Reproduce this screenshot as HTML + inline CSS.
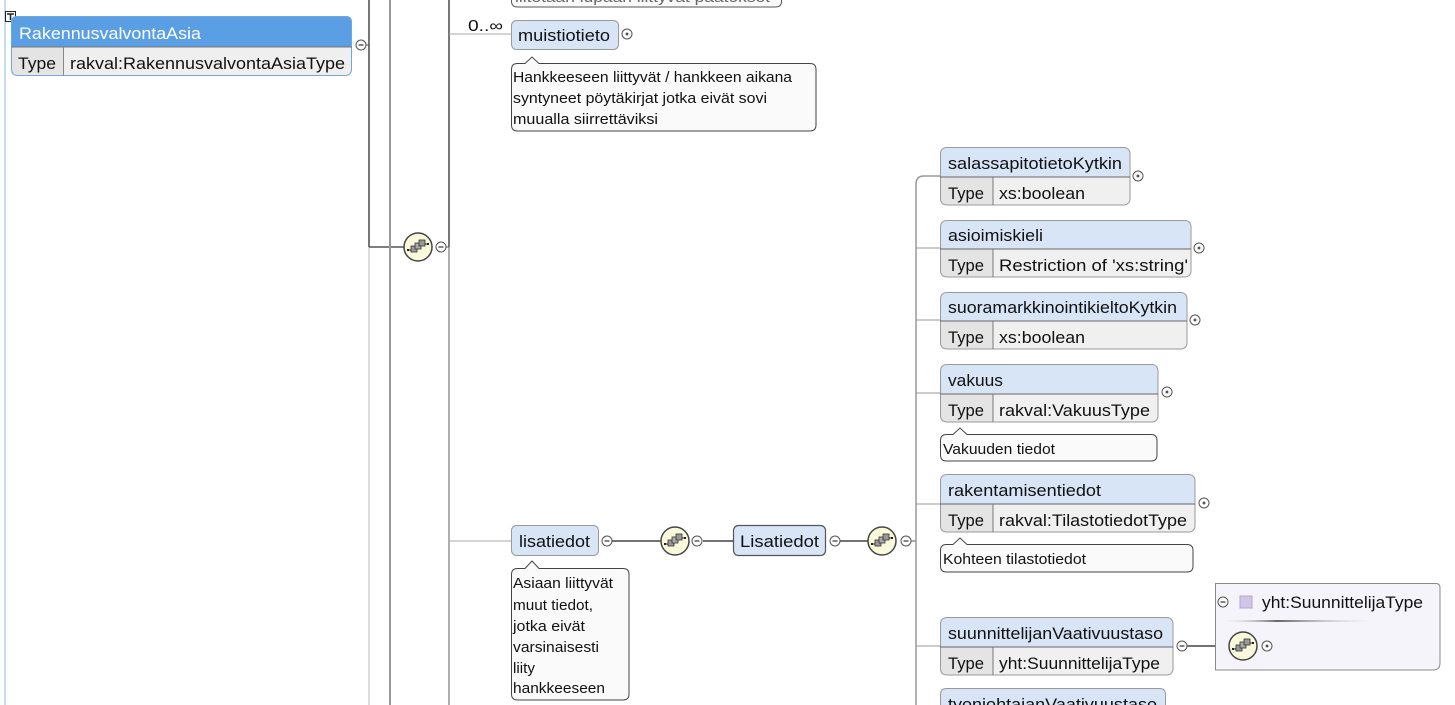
<!DOCTYPE html>
<html><head><meta charset="utf-8"><style>
html,body{margin:0;padding:0;background:#fff;width:1455px;height:705px;overflow:hidden;}
svg{display:block;}
text{font-family:"Liberation Sans",Arial,sans-serif;fill:#111;}
.h{font-size:17px;}
.c{font-size:15px;}
</style></head><body>
<svg width="1455" height="705" viewBox="0 0 1455 705" xmlns="http://www.w3.org/2000/svg" overflow="hidden">
<defs>
<linearGradient id="sep" x1="0" x2="1" y1="0" y2="0">
<stop offset="0" stop-color="#fff" stop-opacity="0"/>
<stop offset="0.35" stop-color="#666"/>
<stop offset="1" stop-color="#fff" stop-opacity="0"/>
</linearGradient>
<clipPath id="frame"><rect x="0" y="0" width="1455" height="705"/></clipPath>
<g id="seq">
<circle r="14" fill="#fbf9dc" stroke="#444" stroke-width="1.5"/>
<rect x="-7" y="-1" width="6" height="6" fill="#999" stroke="#333" stroke-width="0.8"/>
<rect x="-3" y="-4" width="6" height="6" fill="#aaa" stroke="#333" stroke-width="0.8"/>
<rect x="1" y="-7" width="6" height="6" fill="#999" stroke="#333" stroke-width="0.8"/>
<rect x="-11" y="2" width="2" height="2" fill="#222"/>
<line x1="-10" y1="3" x2="-7" y2="3" stroke="#222" stroke-width="1"/>
<rect x="9" y="-4" width="2" height="2" fill="#222"/>
<line x1="7" y1="-3" x2="10" y2="-3" stroke="#222" stroke-width="1"/>
</g>
<g id="minus">
<circle r="5" fill="#fff" stroke="#555" stroke-width="1"/>
<line x1="-2.5" y1="0" x2="2.5" y2="0" stroke="#333" stroke-width="1.2"/>
</g>
<g id="plus">
<circle r="5" fill="#fff" stroke="#555" stroke-width="1"/>
<line x1="-1.5" y1="0" x2="1.5" y2="0" stroke="#333" stroke-width="1.2"/>
<line x1="0" y1="-1.5" x2="0" y2="1.5" stroke="#333" stroke-width="1.2"/>
</g>
</defs>
<g clip-path="url(#frame)">

<!-- left panel line -->
<rect x="4" y="0" width="2" height="705" fill="#c6dcf3"/>
<!-- small icon -->
<rect x="5.5" y="11.5" width="10" height="10" fill="#fff" stroke="#222" stroke-width="1"/>
<line x1="7" y1="14" x2="14" y2="14" stroke="#222" stroke-width="1.5"/>
<line x1="10.5" y1="14" x2="10.5" y2="20" stroke="#222" stroke-width="1.5"/>

<!-- vertical connectors -->
<line x1="369" y1="0" x2="369" y2="247" stroke="#555" stroke-width="1.6"/>
<line x1="369" y1="247" x2="369" y2="705" stroke="#bbb" stroke-width="1"/>
<line x1="369" y1="247" x2="404" y2="247" stroke="#555" stroke-width="1.6"/>
<line x1="366" y1="45" x2="369" y2="45" stroke="#555" stroke-width="1"/>
<line x1="390" y1="0" x2="390" y2="705" stroke="#999" stroke-width="2"/>
<line x1="449" y1="0" x2="449" y2="247" stroke="#555" stroke-width="1.6"/>
<line x1="449" y1="247" x2="449" y2="705" stroke="#999" stroke-width="1.6"/>
<line x1="446" y1="247" x2="449" y2="247" stroke="#555" stroke-width="1"/>
<line x1="449" y1="34" x2="511" y2="34" stroke="#aaa" stroke-width="1"/>
<line x1="449" y1="541" x2="511" y2="541" stroke="#aaa" stroke-width="1"/>
<line x1="612" y1="541" x2="661" y2="541" stroke="#444" stroke-width="1.6"/>
<line x1="703" y1="541" x2="733" y2="541" stroke="#444" stroke-width="1.6"/>
<line x1="840" y1="541" x2="868" y2="541" stroke="#444" stroke-width="1.6"/>
<line x1="911" y1="541" x2="916" y2="541" stroke="#555" stroke-width="1"/>
<path d="M940,176 H924 Q916,176 916,184 V705" fill="none" stroke="#999" stroke-width="1.5"/>
<line x1="916" y1="248" x2="940" y2="248" stroke="#999" stroke-width="1"/>
<line x1="916" y1="320" x2="940" y2="320" stroke="#999" stroke-width="1"/>
<line x1="916" y1="393" x2="940" y2="393" stroke="#999" stroke-width="1"/>
<line x1="916" y1="504" x2="940" y2="504" stroke="#999" stroke-width="1"/>
<line x1="916" y1="646" x2="940" y2="646" stroke="#999" stroke-width="1"/>
<line x1="1187" y1="646" x2="1229" y2="646" stroke="#444" stroke-width="1.6"/>

<!-- RakennusvalvontaAsia -->
<path d="M17,16 H346 Q352,16 352,22 V47 H11 V22 Q11,16 17,16 Z" fill="#5a9fe4"/>
<path d="M11,47 H352 V70 Q352,76 346,76 H17 Q11,76 11,70 Z" fill="#efefef"/>
<rect x="11.5" y="47.5" width="52" height="27" fill="#e4e4e4"/>
<rect x="11.5" y="16.5" width="340" height="59" rx="6" fill="none" stroke="#6ea8e2" stroke-width="1"/>
<line x1="11" y1="47" x2="352" y2="47" stroke="#777" stroke-width="1"/>
<line x1="63.5" y1="47" x2="63.5" y2="75" stroke="#888" stroke-width="1"/>
<text class="h" x="19" y="39" textLength="182" lengthAdjust="spacingAndGlyphs" style="fill:#fff">RakennusvalvontaAsia</text>
<text class="h" x="18" y="69" textLength="38" lengthAdjust="spacingAndGlyphs">Type</text>
<text class="h" x="70" y="69" textLength="275" lengthAdjust="spacingAndGlyphs">rakval:RakennusvalvontaAsiaType</text>
<use href="#minus" x="361" y="45"/>

<!-- sequence 1 -->
<use href="#seq" x="418" y="247"/>
<use href="#minus" x="441" y="247"/>

<!-- clipped top comment -->
<path d="M511.5,0 V1 Q511.5,7 517.5,7 H775.5 Q781.5,7 781.5,1 V0" fill="#fafafa" stroke="#555" stroke-width="1"/>
<text class="c" x="515" y="2" textLength="255" lengthAdjust="spacingAndGlyphs" style="fill:#666">liitetään lupaan liittyvät päätökset</text>

<!-- muistiotieto -->
<text x="468" y="31" style="font-size:16px" textLength="35" lengthAdjust="spacingAndGlyphs">0..∞</text>
<rect x="511.5" y="20.5" width="107" height="29" rx="5" fill="#d8e5f7" stroke="#9a9a9a" stroke-width="1"/>
<text class="h" x="518" y="41" textLength="92" lengthAdjust="spacingAndGlyphs">muistiotieto</text>
<use href="#plus" x="627" y="34"/>
<path d="M517.5,63.5 H525 L532,57 L539,63.5 H810 Q816,63.5 816,69.5 V125 Q816,131 810,131 H517.5 Q511.5,131 511.5,125 V69.5 Q511.5,63.5 517.5,63.5 Z" fill="#fafafa" stroke="#444" stroke-width="1"/>
<text class="c" x="513" y="82" textLength="279" lengthAdjust="spacingAndGlyphs">Hankkeeseen liittyvät / hankkeen aikana</text>
<text class="c" x="513" y="103" textLength="254" lengthAdjust="spacingAndGlyphs">syntyneet pöytäkirjat jotka eivät sovi</text>
<text class="c" x="513" y="124" textLength="145" lengthAdjust="spacingAndGlyphs">muualla siirrettäviksi</text>

<!-- lisatiedot -->
<rect x="511.5" y="525.5" width="87" height="30" rx="5" fill="#d8e5f7" stroke="#9a9a9a" stroke-width="1"/>
<text class="h" x="519" y="547" textLength="71" lengthAdjust="spacingAndGlyphs">lisatiedot</text>
<use href="#minus" x="607" y="541"/>
<path d="M517.5,568.5 H525 L532,561 L539,568.5 H623 Q629,568.5 629,574.5 V694 Q629,700 623,700 H517.5 Q511.5,700 511.5,694 V574.5 Q511.5,568.5 517.5,568.5 Z" fill="#fafafa" stroke="#444" stroke-width="1"/>
<text class="c" x="513" y="588" textLength="100" lengthAdjust="spacingAndGlyphs">Asiaan liittyvät</text>
<text class="c" x="513" y="610" textLength="80" lengthAdjust="spacingAndGlyphs">muut tiedot,</text>
<text class="c" x="513" y="631" textLength="72" lengthAdjust="spacingAndGlyphs">jotka eivät</text>
<text class="c" x="513" y="652" textLength="86" lengthAdjust="spacingAndGlyphs">varsinaisesti</text>
<text class="c" x="513" y="673" textLength="22" lengthAdjust="spacingAndGlyphs">liity</text>
<text class="c" x="513" y="693" textLength="92" lengthAdjust="spacingAndGlyphs">hankkeeseen</text>

<use href="#seq" x="675" y="541"/>
<use href="#minus" x="697" y="541"/>
<rect x="733.5" y="525.5" width="92" height="30" rx="5" fill="#d8e5f7" stroke="#555" stroke-width="1.2"/>
<text class="h" x="740" y="547" textLength="79" lengthAdjust="spacingAndGlyphs">Lisatiedot</text>
<use href="#minus" x="835" y="541"/>
<use href="#seq" x="882" y="541"/>
<use href="#minus" x="906" y="541"/>

<!-- salassapitotietoKytkin -->
<g>
<path d="M946,147.5 H1124 Q1130,147.5 1130,153.5 V177 H940.5 V153.5 Q940.5,147.5 946,147.5 Z" fill="#d8e5f7"/>
<path d="M940.5,177 H1130 V199 Q1130,205 1124,205 H946 Q940.5,205 940.5,199 Z" fill="#f0f0f0"/>
<rect x="941" y="177.5" width="52" height="27" fill="#e4e4e4"/>
<rect x="940.5" y="147.5" width="189.5" height="57.5" rx="6" fill="none" stroke="#9a9a9a"/>
<line x1="940" y1="177" x2="1130" y2="177" stroke="#666"/>
<line x1="993" y1="177" x2="993" y2="205" stroke="#777"/>
<text class="h" x="948" y="169" textLength="174" lengthAdjust="spacingAndGlyphs">salassapitotietoKytkin</text>
<text class="h" x="948" y="199" textLength="36" lengthAdjust="spacingAndGlyphs">Type</text>
<text class="h" x="999" y="199" textLength="86" lengthAdjust="spacingAndGlyphs">xs:boolean</text>
<use href="#plus" x="1138" y="176"/>
</g>
<!-- asioimiskieli -->
<g>
<path d="M946,220.5 H1185 Q1191,220.5 1191,226.5 V249 H940.5 V226.5 Q940.5,220.5 946,220.5 Z" fill="#d8e5f7"/>
<path d="M940.5,249 H1191 V271 Q1191,277 1185,277 H946 Q940.5,277 940.5,271 Z" fill="#f0f0f0"/>
<rect x="941" y="249.5" width="52" height="27" fill="#e4e4e4"/>
<rect x="940.5" y="220.5" width="250.5" height="56.5" rx="6" fill="none" stroke="#9a9a9a"/>
<line x1="940" y1="249" x2="1191" y2="249" stroke="#666"/>
<line x1="993" y1="249" x2="993" y2="277" stroke="#777"/>
<text class="h" x="948" y="241" textLength="95" lengthAdjust="spacingAndGlyphs">asioimiskieli</text>
<text class="h" x="948" y="271" textLength="36" lengthAdjust="spacingAndGlyphs">Type</text>
<text class="h" x="999" y="271" textLength="189" lengthAdjust="spacingAndGlyphs">Restriction of 'xs:string'</text>
<use href="#plus" x="1199" y="248"/>
</g>
<!-- suoramarkkinointikieltoKytkin -->
<g>
<path d="M946,292.5 H1181 Q1187,292.5 1187,298.5 V321 H940.5 V298.5 Q940.5,292.5 946,292.5 Z" fill="#d8e5f7"/>
<path d="M940.5,321 H1187 V343 Q1187,349 1181,349 H946 Q940.5,349 940.5,343 Z" fill="#f0f0f0"/>
<rect x="941" y="321.5" width="52" height="27" fill="#e4e4e4"/>
<rect x="940.5" y="292.5" width="246.5" height="56.5" rx="6" fill="none" stroke="#9a9a9a"/>
<line x1="940" y1="321" x2="1187" y2="321" stroke="#666"/>
<line x1="993" y1="321" x2="993" y2="349" stroke="#777"/>
<text class="h" x="948" y="313" textLength="229" lengthAdjust="spacingAndGlyphs">suoramarkkinointikieltoKytkin</text>
<text class="h" x="948" y="343" textLength="36" lengthAdjust="spacingAndGlyphs">Type</text>
<text class="h" x="999" y="343" textLength="86" lengthAdjust="spacingAndGlyphs">xs:boolean</text>
<use href="#plus" x="1195" y="320"/>
</g>
<!-- vakuus -->
<g>
<path d="M946,364.5 H1152 Q1158,364.5 1158,370.5 V394 H940.5 V370.5 Q940.5,364.5 946,364.5 Z" fill="#d8e5f7"/>
<path d="M940.5,394 H1158 V416 Q1158,422 1152,422 H946 Q940.5,422 940.5,416 Z" fill="#f0f0f0"/>
<rect x="941" y="394.5" width="52" height="27" fill="#e4e4e4"/>
<rect x="940.5" y="364.5" width="217.5" height="57.5" rx="6" fill="none" stroke="#9a9a9a"/>
<line x1="940" y1="394" x2="1158" y2="394" stroke="#666"/>
<line x1="993" y1="394" x2="993" y2="422" stroke="#777"/>
<text class="h" x="948" y="386" textLength="55" lengthAdjust="spacingAndGlyphs">vakuus</text>
<text class="h" x="948" y="416" textLength="36" lengthAdjust="spacingAndGlyphs">Type</text>
<text class="h" x="999" y="416" textLength="151" lengthAdjust="spacingAndGlyphs">rakval:VakuusType</text>
<use href="#plus" x="1167" y="392"/>
<path d="M946.5,434.5 H953 L960,428 L967,434.5 H1151 Q1157,434.5 1157,440.5 V455 Q1157,461 1151,461 H946.5 Q940.5,461 940.5,455 V440.5 Q940.5,434.5 946.5,434.5 Z" fill="#fafafa" stroke="#444"/>
<text class="c" x="943" y="454" textLength="112" lengthAdjust="spacingAndGlyphs">Vakuuden tiedot</text>
</g>
<!-- rakentamisentiedot -->
<g>
<path d="M946,474.5 H1189 Q1195,474.5 1195,480.5 V504 H940.5 V480.5 Q940.5,474.5 946,474.5 Z" fill="#d8e5f7"/>
<path d="M940.5,504 H1195 V526 Q1195,532 1189,532 H946 Q940.5,532 940.5,526 Z" fill="#f0f0f0"/>
<rect x="941" y="504.5" width="52" height="27" fill="#e4e4e4"/>
<rect x="940.5" y="474.5" width="254.5" height="57.5" rx="6" fill="none" stroke="#9a9a9a"/>
<line x1="940" y1="504" x2="1195" y2="504" stroke="#666"/>
<line x1="993" y1="504" x2="993" y2="532" stroke="#777"/>
<text class="h" x="948" y="496" textLength="153" lengthAdjust="spacingAndGlyphs">rakentamisentiedot</text>
<text class="h" x="948" y="526" textLength="36" lengthAdjust="spacingAndGlyphs">Type</text>
<text class="h" x="999" y="526" textLength="188" lengthAdjust="spacingAndGlyphs">rakval:TilastotiedotType</text>
<use href="#plus" x="1204" y="503"/>
<path d="M946.5,544.5 H953 L960,538 L967,544.5 H1187 Q1193,544.5 1193,550.5 V566 Q1193,572 1187,572 H946.5 Q940.5,572 940.5,566 V550.5 Q940.5,544.5 946.5,544.5 Z" fill="#fafafa" stroke="#444"/>
<text class="c" x="943" y="564" textLength="143" lengthAdjust="spacingAndGlyphs">Kohteen tilastotiedot</text>
</g>
<!-- suunnittelijanVaativuustaso -->
<g>
<path d="M946,617.5 H1167 Q1173,617.5 1173,623.5 V647 H940.5 V623.5 Q940.5,617.5 946,617.5 Z" fill="#d8e5f7"/>
<path d="M940.5,647 H1173 V669 Q1173,675 1167,675 H946 Q940.5,675 940.5,669 Z" fill="#f0f0f0"/>
<rect x="941" y="647.5" width="52" height="27" fill="#e4e4e4"/>
<rect x="940.5" y="617.5" width="232.5" height="57.5" rx="6" fill="none" stroke="#9a9a9a"/>
<line x1="940" y1="647" x2="1173" y2="647" stroke="#666"/>
<line x1="993" y1="647" x2="993" y2="675" stroke="#777"/>
<text class="h" x="948" y="639" textLength="215" lengthAdjust="spacingAndGlyphs">suunnittelijanVaativuustaso</text>
<text class="h" x="948" y="669" textLength="36" lengthAdjust="spacingAndGlyphs">Type</text>
<text class="h" x="999" y="669" textLength="161" lengthAdjust="spacingAndGlyphs">yht:SuunnittelijaType</text>
<use href="#minus" x="1182" y="646"/>
</g>
<!-- tyonjohtajanVaativuustaso (clipped) -->
<g>
<path d="M940.5,705 V694.5 Q940.5,688.5 946.5,688.5 H1159.5 Q1165.5,688.5 1165.5,694.5 V705 Z" fill="#d8e5f7"/>
<path d="M940.5,705 V694.5 Q940.5,688.5 946.5,688.5 H1159.5 Q1165.5,688.5 1165.5,694.5 V705" fill="none" stroke="#9a9a9a"/>
<text class="h" x="948" y="710" textLength="209" lengthAdjust="spacingAndGlyphs">tyonjohtajanVaativuustaso</text>
</g>

<!-- yht:SuunnittelijaType box -->
<path d="M1215.5,583.5 H1436 Q1440,583.5 1440,587.5 V663 Q1440,670 1433,670 H1215.5 Z" fill="#f6f4fb" stroke="#8a8a8a" stroke-width="1"/>
<use href="#minus" x="1223" y="602"/>
<rect x="1240" y="596" width="12" height="12" fill="#cfc6ea" stroke="#b0a8cc" stroke-width="1"/>
<text x="1262" y="608" style="font-size:17px" textLength="161" lengthAdjust="spacingAndGlyphs">yht:SuunnittelijaType</text>
<rect x="1218" y="620" width="170" height="2" fill="url(#sep)"/>
<use href="#seq" x="1243" y="646"/>
<use href="#plus" x="1267" y="646"/>
</g>
</svg>
</body></html>
